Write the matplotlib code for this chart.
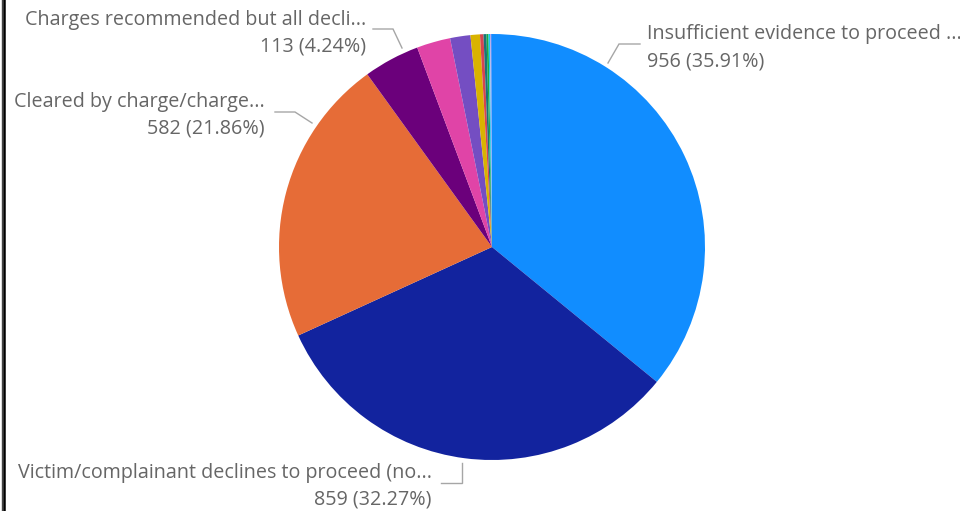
import matplotlib
matplotlib.use("Agg")
import matplotlib.pyplot as plt
from matplotlib.lines import Line2D

# Case clearance outcomes (counts)
categories = [
    "Insufficient evidence to proceed ...",
    "Victim/complainant declines to proceed (no...",
    "Cleared by charge/charge...",
    "Charges recommended but all decli...",
    "Cleared by exception - other",
    "Offender deceased",
    "Extradition declined",
    "Offender in custody elsewhere",
    "Referred to other agency",
    "Warrant issued",
    "Juvenile - no custody",
    "Unfounded",
    "Other",
]
counts = [956, 859, 582, 113, 68, 41, 19, 7, 6, 4, 3, 2, 2]
colors = ["#118DFF", "#12239E", "#E66C37", "#6B007B", "#E044A7", "#744EC2",
          "#D9B300", "#D64550", "#197278", "#1AAB40", "#15C6F4", "#B8A9E8",
          "#4092FF"]

W, H = 960, 511
fig = plt.figure(figsize=(W / 100, H / 100), dpi=100)
ax = fig.add_axes([0, 0, 1, 1])

cx, cy, r = 492, H - 247, 213
ax.pie(counts, colors=colors, startangle=90, counterclock=False,
       center=(cx, cy), radius=r, frame=True,
       wedgeprops=dict(linewidth=0))
ax.set_xlim(0, W)
ax.set_ylim(0, H)
ax.set_aspect("equal")
ax.axis("off")

total = sum(counts)
txt_color = "#666666"
lead_color = "#A6A6A6"
font = dict(family=["Open Sans", "DejaVu Sans"], size=14.2, color=txt_color)

# (index, text x, align, line-1 y, line-2 y, leader path) in pixel coords from top
labels = [
    (0, 647, "left", 34, 61, [(608, 63), (619, 44), (640, 44)]),
    (3, 366, "right", 20, 46, [(402, 48), (393, 29), (373, 29)]),
    (2, 265, "right", 102, 128, [(312, 123), (295, 112), (275, 112)]),
    (1, 432, "right", 473, 499, [(462, 463), (462, 483), (441, 483)]),
]
for i, x, ha, y1, y2, path in labels:
    pct = counts[i] / total * 100
    ax.text(x, H - y1, categories[i], ha=ha, va="center", **font)
    ax.text(x, H - y2, f"{counts[i]} ({pct:.2f}%)", ha=ha, va="center", **font)
    xs = [p[0] for p in path]
    ys = [H - p[1] for p in path]
    ax.plot(xs, ys, color=lead_color, linewidth=1.0, solid_joinstyle="miter")

# frame edge on the left
fig.add_artist(Line2D([1.5 / W, 1.5 / W], [0, 1], color="#444444", linewidth=1.0))
fig.add_artist(Line2D([3.8 / W, 3.8 / W], [0, 1], color="#000000", linewidth=1.8))

fig.savefig("out.png", dpi=100)
